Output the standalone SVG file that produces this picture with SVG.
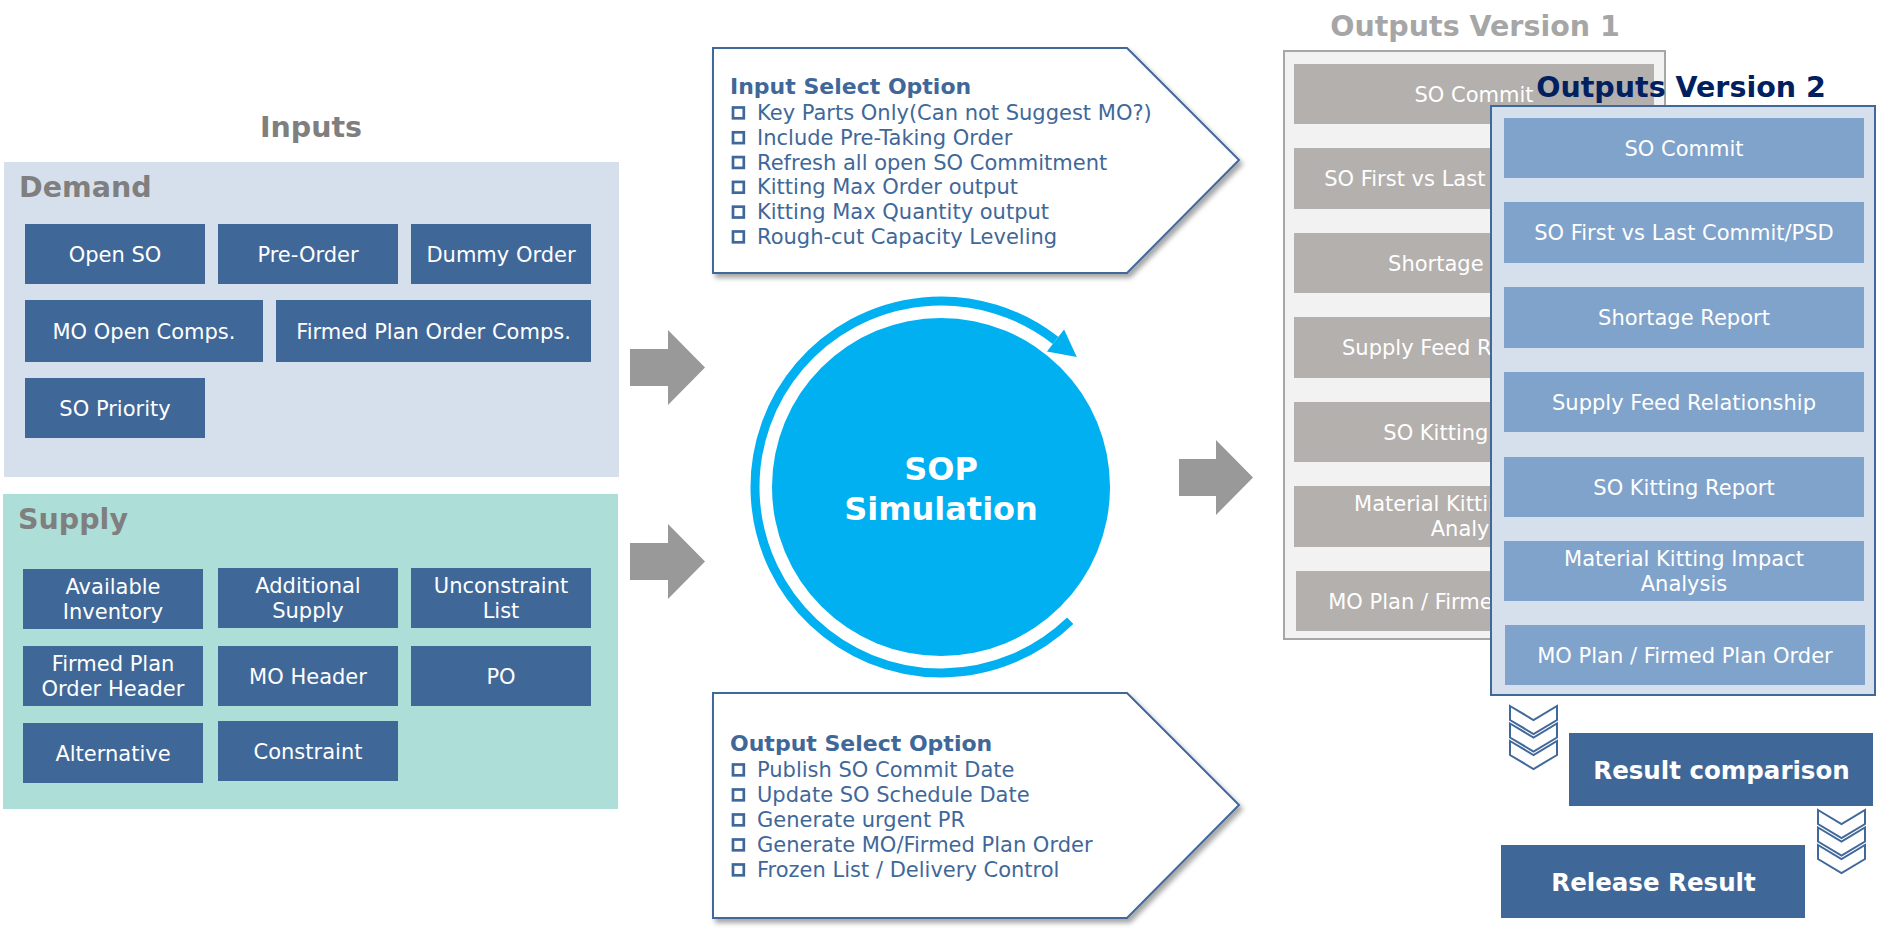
<svg xmlns="http://www.w3.org/2000/svg" width="1877" height="932" viewBox="0 0 1877 932">
<defs>
<style>
text { font-family: "DejaVu Sans", Verdana, sans-serif; }
.bx { fill:#3F6899; }
.bt { fill:#FFFFFF; font-size:21px; text-anchor:middle; }
.h { font-weight:bold; font-size:28.5px; fill:#7F7F7F; }
.opt { fill:#3F6899; font-size:21px; }
.optt { fill:#3F6899; font-size:22px; font-weight:bold; }
.cb { fill:none; stroke:#3F6899; stroke-width:2.7; }
.pent { fill:#FFFFFF; stroke:#41689A; stroke-width:2; filter:url(#sh); }
.v1 { fill:#B4B0AD; }
.v2 { fill:#7FA3CB; }
.chev { fill:#FFFFFF; stroke:#41689A; stroke-width:2; }
.ga { fill:#999999; }
.rt { fill:#FFFFFF; font-size:24.5px; font-weight:bold; text-anchor:middle; }
</style>
<filter id="sh" x="-5%" y="-5%" width="115%" height="120%">
<feDropShadow dx="3" dy="4" stdDeviation="2.5" flood-color="#000000" flood-opacity="0.35"/>
</filter>
<rect id="cbx" class="cb" width="10.8" height="10.8"/>
<g id="chev3">
<polygon class="chev" points="0,0 23.5,14 47,0 47,14 23.5,28 0,14"/>
<polygon class="chev" points="0,17.5 23.5,31.5 47,17.5 47,31.5 23.5,45.5 0,31.5"/>
<polygon class="chev" points="0,35 23.5,49 47,35 47,49 23.5,63 0,49"/>
</g>
</defs>
<rect width="1877" height="932" fill="#FFFFFF"/>

<text class="h" x="311" y="137" text-anchor="middle" font-size="30">Inputs</text>

<g id="demand">
<rect x="4" y="162" width="615" height="315" fill="#D6E0ED"/>
<text class="h" x="19" y="197">Demand</text>
<g id="open-so"><rect class="bx" x="25" y="224" width="180" height="60"/><text class="bt" x="115" y="261.5">Open SO</text></g>
<g id="pre-order"><rect class="bx" x="218" y="224" width="180" height="60"/><text class="bt" x="308" y="261.5">Pre-Order</text></g>
<g id="dummy-order"><rect class="bx" x="411" y="224" width="180" height="60"/><text class="bt" x="501" y="261.5">Dummy Order</text></g>
<g id="mo-open-comps"><rect class="bx" x="25" y="300" width="238" height="62"/><text class="bt" x="144" y="338.5">MO Open Comps.</text></g>
<g id="firmed-plan-comps"><rect class="bx" x="276" y="300" width="315" height="62"/><text class="bt" x="433.5" y="338.5">Firmed Plan Order Comps.</text></g>
<g id="so-priority"><rect class="bx" x="25" y="378" width="180" height="60"/><text class="bt" x="115" y="415.5">SO Priority</text></g>
</g>

<g id="supply">
<rect x="3" y="494" width="615" height="315" fill="#ADDED7"/>
<text class="h" x="18" y="529">Supply</text>
<g id="available-inventory"><rect class="bx" x="23" y="569" width="180" height="60"/><text class="bt" x="113" y="594">Available</text><text class="bt" x="113" y="619">Inventory</text></g>
<g id="additional-supply"><rect class="bx" x="218" y="568" width="180" height="60"/><text class="bt" x="308" y="593">Additional</text><text class="bt" x="308" y="618">Supply</text></g>
<g id="unconstraint-list"><rect class="bx" x="411" y="568" width="180" height="60"/><text class="bt" x="501" y="593">Unconstraint</text><text class="bt" x="501" y="618">List</text></g>
<g id="firmed-plan-header"><rect class="bx" x="23" y="646" width="180" height="60"/><text class="bt" x="113" y="671">Firmed Plan</text><text class="bt" x="113" y="696">Order Header</text></g>
<g id="mo-header"><rect class="bx" x="218" y="646" width="180" height="60"/><text class="bt" x="308" y="683.5">MO Header</text></g>
<g id="po"><rect class="bx" x="411" y="646" width="180" height="60"/><text class="bt" x="501" y="683.5">PO</text></g>
<g id="alternative"><rect class="bx" x="23" y="723" width="180" height="60"/><text class="bt" x="113" y="760.5">Alternative</text></g>
<g id="constraint"><rect class="bx" x="218" y="721" width="180" height="60"/><text class="bt" x="308" y="758.5">Constraint</text></g>
</g>

<g id="input-select-option">
<path class="pent" d="M713,48 H1127 L1239,160 L1127,273 H713 Z"/>
<text class="optt" x="730" y="94">Input Select Option</text>
<use href="#cbx" x="733" y="107.5"/><text class="opt" x="757" y="120">Key Parts Only(Can not Suggest MO?)</text>
<use href="#cbx" x="733" y="132.3"/><text class="opt" x="757" y="144.8">Include Pre-Taking Order</text>
<use href="#cbx" x="733" y="157.1"/><text class="opt" x="757" y="169.6">Refresh all open SO Commitment</text>
<use href="#cbx" x="733" y="181.9"/><text class="opt" x="757" y="194.4">Kitting Max Order output</text>
<use href="#cbx" x="733" y="206.7"/><text class="opt" x="757" y="219.2">Kitting Max Quantity output</text>
<use href="#cbx" x="733" y="231.5"/><text class="opt" x="757" y="244">Rough-cut Capacity Leveling</text>
</g>

<g id="output-select-option">
<path class="pent" d="M713,693 H1127 L1239,805 L1127,918 H713 Z"/>
<text class="optt" x="730" y="751">Output Select Option</text>
<use href="#cbx" x="733" y="764.5"/><text class="opt" x="757" y="777">Publish SO Commit Date</text>
<use href="#cbx" x="733" y="789.5"/><text class="opt" x="757" y="802">Update SO Schedule Date</text>
<use href="#cbx" x="733" y="814.5"/><text class="opt" x="757" y="827">Generate urgent PR</text>
<use href="#cbx" x="733" y="839.5"/><text class="opt" x="757" y="852">Generate MO/Firmed Plan Order</text>
<use href="#cbx" x="733" y="864.5"/><text class="opt" x="757" y="877">Frozen List / Delivery Control</text>
</g>

<g id="sop-simulation">
<circle cx="941" cy="487" r="169" fill="#00B0F0"/>
<text x="941" y="480" fill="#FFFFFF" font-size="32" font-weight="bold" text-anchor="middle">SOP</text>
<text x="941" y="520" fill="#FFFFFF" font-size="32" font-weight="bold" text-anchor="middle">Simulation</text>
</g>

<g id="outputs-v1">
<text x="1475" y="36" font-size="28.5" font-weight="bold" fill="#A6A6A6" text-anchor="middle">Outputs Version 1</text>
<rect x="1284" y="51" width="381" height="588" fill="#F2F2F2" stroke="#A6A6A6" stroke-width="2"/>
<rect class="v1" x="1294" y="64" width="360" height="60"/><text class="bt" x="1474" y="101.5">SO Commit</text>
<rect class="v1" x="1294" y="148" width="360" height="61"/><text class="bt" x="1474" y="186">SO First vs Last Commit/PSD</text>
<rect class="v1" x="1294" y="233" width="360" height="60"/><text class="bt" x="1474" y="270.5">Shortage Report</text>
<rect class="v1" x="1294" y="317" width="360" height="61"/><text class="bt" x="1474" y="355">Supply Feed Relationship</text>
<rect class="v1" x="1294" y="402" width="360" height="60"/><text class="bt" x="1474" y="439.5">SO Kitting Report</text>
<rect class="v1" x="1294" y="486" width="360" height="61"/><text class="bt" x="1474" y="511">Material Kitting Impact</text><text class="bt" x="1474" y="536">Analysis</text>
<rect class="v1" x="1296" y="571" width="360" height="60"/><text class="bt" x="1476" y="608.5">MO Plan / Firmed Plan Order</text>
</g>

<g id="outputs-v2">
<text x="1681" y="97" font-size="28.5" font-weight="bold" fill="#002060" text-anchor="middle">Outputs Version 2</text>
<rect x="1491" y="106" width="384" height="589" fill="#D6E0ED" stroke="#41689A" stroke-width="2"/>
<rect class="v2" x="1504" y="118" width="360" height="60"/><text class="bt" x="1684" y="155.5">SO Commit</text>
<rect class="v2" x="1504" y="202" width="360" height="61"/><text class="bt" x="1684" y="240">SO First vs Last Commit/PSD</text>
<rect class="v2" x="1504" y="287" width="360" height="61"/><text class="bt" x="1684" y="325">Shortage Report</text>
<rect class="v2" x="1504" y="372" width="360" height="60"/><text class="bt" x="1684" y="409.5">Supply Feed Relationship</text>
<rect class="v2" x="1504" y="457" width="360" height="60"/><text class="bt" x="1684" y="494.5">SO Kitting Report</text>
<rect class="v2" x="1504" y="541" width="360" height="60"/><text class="bt" x="1684" y="566">Material Kitting Impact</text><text class="bt" x="1684" y="591">Analysis</text>
<rect class="v2" x="1505" y="625" width="360" height="60"/><text class="bt" x="1685" y="662.5">MO Plan / Firmed Plan Order</text>
</g>

<g id="result-comparison">
<rect class="bx" x="1569" y="733" width="304" height="73"/>
<text class="rt" x="1721.5" y="778.5">Result comparison</text>
</g>

<g id="release-result">
<rect class="bx" x="1501" y="845" width="304" height="73"/>
<text class="rt" x="1653.5" y="890.5">Release Result</text>
</g>

<g id="connectors">
<polygon class="ga" points="630,349 668,349 668,330 705,367.5 668,405 668,386 630,386"/>
<polygon class="ga" points="630,543 668,543 668,524 705,561.5 668,599 668,580 630,580"/>
<polygon class="ga" points="1179,459 1216,459 1216,440 1253,477.5 1216,515 1216,496 1179,496"/>
<path d="M1070.2,620.8 A186,186 0 1 1 1055.5,340.4" fill="none" stroke="#00B0F0" stroke-width="9"/>
<polygon points="1064.1,329.4 1046.9,351.4 1076.8,357" fill="#00B0F0"/>
<use href="#chev3" x="1510" y="706"/>
<use href="#chev3" x="1818" y="810"/>
</g>
</svg>
